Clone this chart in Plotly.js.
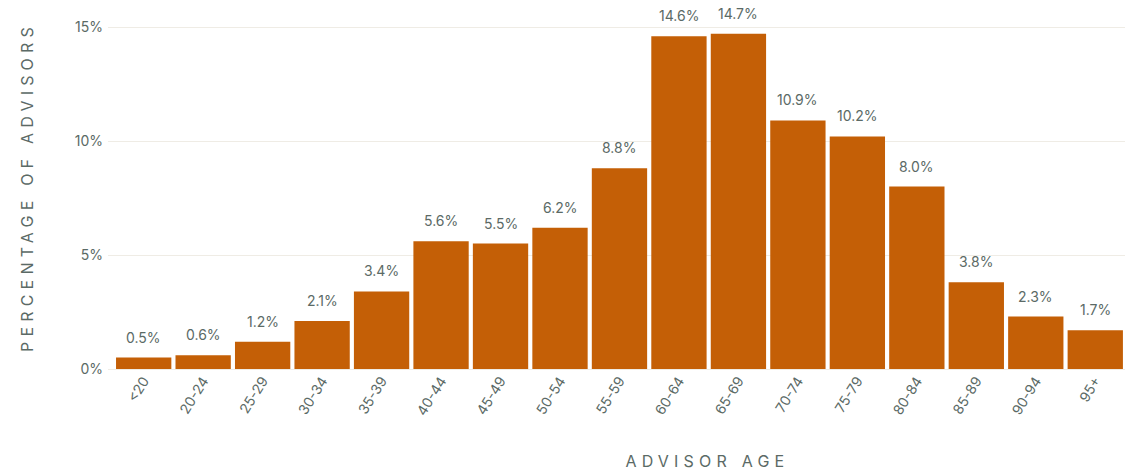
<!DOCTYPE html>
<html>
<head>
<meta charset="utf-8">
<script src="https://cdn.plot.ly/plotly-3.0.1.min.js"></script>
<style>
  html, body { margin: 0; padding: 0; background: #fff; }
  #graph { width: 1132px; height: 471px; }
  .annotation[data-index="17"] .annotation-text,
  .annotation[data-index="18"] .annotation-text { letter-spacing: 5.2px; }
</style>
</head>
<body>
<div id="graph"></div>
<script>
const ageGroups = ['<20', '20-24', '25-29', '30-34', '35-39', '40-44', '45-49', '50-54',
    '55-59', '60-64', '65-69', '70-74', '75-79', '80-84', '85-89', '90-94', '95+']
const pctAdvisors = [0.5, 0.6, 1.2, 2.1, 3.4, 5.6, 5.5, 6.2, 8.8, 14.6, 14.7, 10.9, 10.2, 8.0, 3.8, 2.3, 1.7]
const yTicks = [0, 5, 10, 15]

const textColor = '#5b6a66'
const fontFamily = 'Inter, "Open Sans", sans-serif'

const graphData = [
    {
        x: ageGroups,
        y: pctAdvisors,
        type: 'bar',
        marker: { color: '#c45f06', line: { width: 0 } },
        hoverinfo: 'none',
    }
]

// value labels sit a bit higher above the bars than plotly's own outside text
const valueLabels = ageGroups.map((g, i) => ({
    x: g,
    y: pctAdvisors[i],
    text: pctAdvisors[i].toFixed(1) + '%',
    showarrow: false,
    yanchor: 'bottom',
    yshift: 10,
    font: { size: 14, color: textColor },
}))

// axis titles as annotations, the originals are off centre
const axisTitles = [
    {
        text: 'ADVISOR AGE',
        xref: 'paper', yref: 'paper',
        x: 0.589, y: -0.264,
        xanchor: 'center', yanchor: 'middle',
        showarrow: false,
        font: { size: 16, color: textColor },
    },
    {
        text: 'PERCENTAGE OF ADVISORS',
        xref: 'paper', yref: 'paper',
        x: -0.079, y: 0.524,
        xanchor: 'center', yanchor: 'middle',
        textangle: -90,
        showarrow: false,
        font: { size: 16, color: textColor },
    },
]

const layout = {
    width: 1132,
    height: 471,
    margin: { l: 108, r: 7, t: 22, b: 102 },
    paper_bgcolor: '#fff',
    plot_bgcolor: '#fff',
    showlegend: false,
    bargap: 0.07,
    font: { family: fontFamily, color: textColor, size: 13 },
    annotations: valueLabels.concat(axisTitles),
    xaxis: {
        type: 'category',
        range: [-0.6, 16.5],
        tickangle: -58,
        tickfont: { size: 14, color: textColor },
        showgrid: false,
        showline: false,
        ticks: '',
    },
    yaxis: {
        range: [0, 15.22],
        tickvals: yTicks,
        ticktext: yTicks.map(v => v + '%'),
        tickfont: { size: 14, color: textColor },
        ticklabelstandoff: 4,
        gridcolor: '#efece5',
        gridwidth: 1,
        zeroline: true,
        zerolinecolor: '#efece5',
        zerolinewidth: 1,
        showline: false,
        ticks: '',
    },
}

Plotly.newPlot('graph', graphData, layout, { displayModeBar: false, staticPlot: true })
</script>
</body>
</html>
